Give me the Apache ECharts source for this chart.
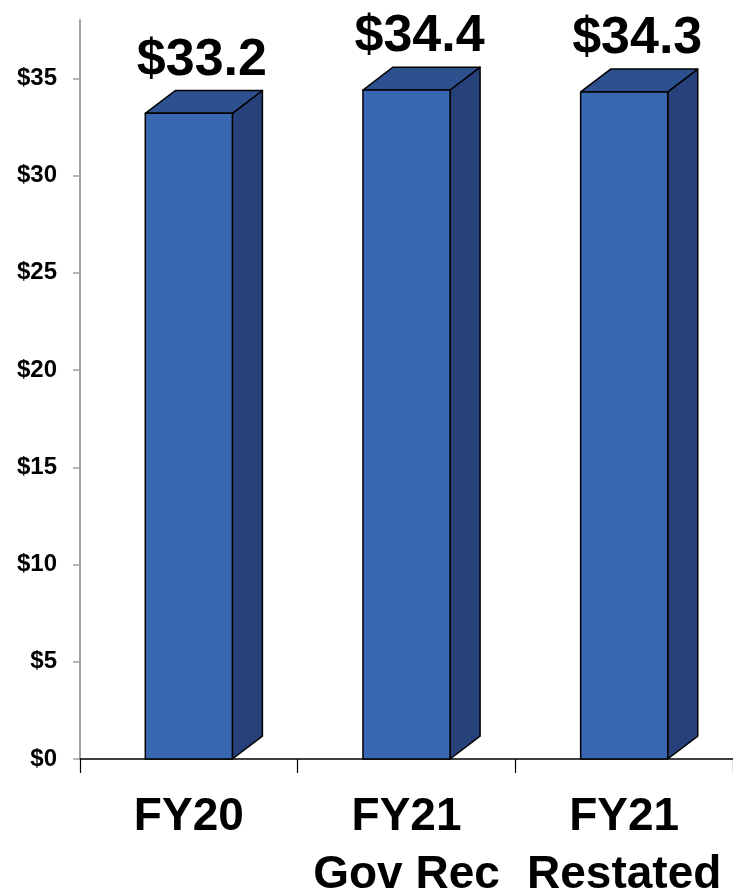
<!DOCTYPE html>
<html>
<head>
<meta charset="utf-8">
<style>
  html, body { margin: 0; padding: 0; background: #ffffff; }
  #chart { width: 733px; height: 889px; }
</style>
<script src="https://cdn.jsdelivr.net/npm/echarts@6/dist/echarts.min.js"></script>
</head>
<body>
<div id="chart"></div>
<script>
// Budget totals, in billions of dollars
const categories = ['FY20', 'FY21\nGov Rec', 'FY21\nRestated'];
const values = [33.2, 34.4, 34.3];
const yTickValues = [0, 5, 10, 15, 20, 25, 30, 35];

const FONT = '"Liberation Sans", Arial, sans-serif';
const FRONT = '#3A67B2';
const TOP = '#2D508E';
const SIDE = '#27417A';

// Box-shaped bar: front face, right side and top, with the value label above
function renderBox(params, api) {
  const idx = api.value(0);
  const v = api.value(1);
  const top = api.coord([idx, v]);
  const base = api.coord([idx, 0]);
  const band = api.size([1, 0])[0];
  const w = band * 0.4;
  const dx = band * 0.138;
  const dy = band * 0.105;
  const x0 = top[0] - w / 2;
  const x1 = top[0] + w / 2;
  const yT = top[1];
  const yB = base[1];
  const line = { stroke: '#000000', lineWidth: 1.5, lineJoin: 'round' };
  return {
    type: 'group',
    children: [
      {
        type: 'polygon',
        shape: { points: [[x1, yB], [x1, yT], [x1 + dx, yT - dy], [x1 + dx, yB - dy]] },
        style: Object.assign({ fill: SIDE }, line)
      },
      {
        type: 'polygon',
        shape: { points: [[x0, yT], [x1, yT], [x1 + dx, yT - dy], [x0 + dx, yT - dy]] },
        style: Object.assign({ fill: TOP }, line)
      },
      {
        type: 'rect',
        shape: { x: x0, y: yT, width: w, height: yB - yT },
        style: Object.assign({ fill: FRONT }, line)
      },
      {
        type: 'text',
        x: top[0] + band * 0.06,
        y: yT - dy - 4,
        style: {
          text: '$' + v.toFixed(1),
          fill: '#000000',
          font: 'bold 52px ' + FONT,
          align: 'center',
          verticalAlign: 'bottom'
        }
      }
    ]
  };
}

const chart = echarts.init(document.getElementById('chart'), null, { renderer: 'canvas' });
chart.setOption({
  animation: false,
  backgroundColor: '#ffffff',
  grid: {
    left: 80, right: 0, top: 20, bottom: 130,
    containLabel: false,
    outerBoundsMode: 'none'
  },
  xAxis: {
    type: 'category',
    data: categories,
    boundaryGap: true,
    axisLine: { show: true, lineStyle: { color: '#000000', width: 1.5 } },
    axisTick: { show: true, length: 14, lineStyle: { color: '#000000', width: 1.2 } },
    axisLabel: {
      margin: 29,
      color: '#000000',
      fontFamily: FONT,
      fontWeight: 'bold',
      fontSize: 46,
      lineHeight: 58,
      interval: 0
    },
    splitLine: { show: false }
  },
  yAxis: {
    type: 'value',
    min: 0,
    max: 38,
    axisLine: { show: true, lineStyle: { color: '#A0A0A0', width: 2 } },
    axisTick: {
      show: true,
      length: 7,
      customValues: yTickValues,
      lineStyle: { color: '#A0A0A0', width: 1.5 }
    },
    axisLabel: {
      customValues: yTickValues,
      margin: 23,
      color: '#000000',
      fontFamily: FONT,
      fontWeight: 'bold',
      fontSize: 24,
      formatter: v => '$' + v
    },
    splitLine: { show: false }
  },
  series: [{
    type: 'custom',
    renderItem: renderBox,
    data: values.map((v, i) => [i, v]),
    encode: { x: 0, y: 1 },
    clip: false,
    z: 1
  }]
});
</script>
</body>
</html>
